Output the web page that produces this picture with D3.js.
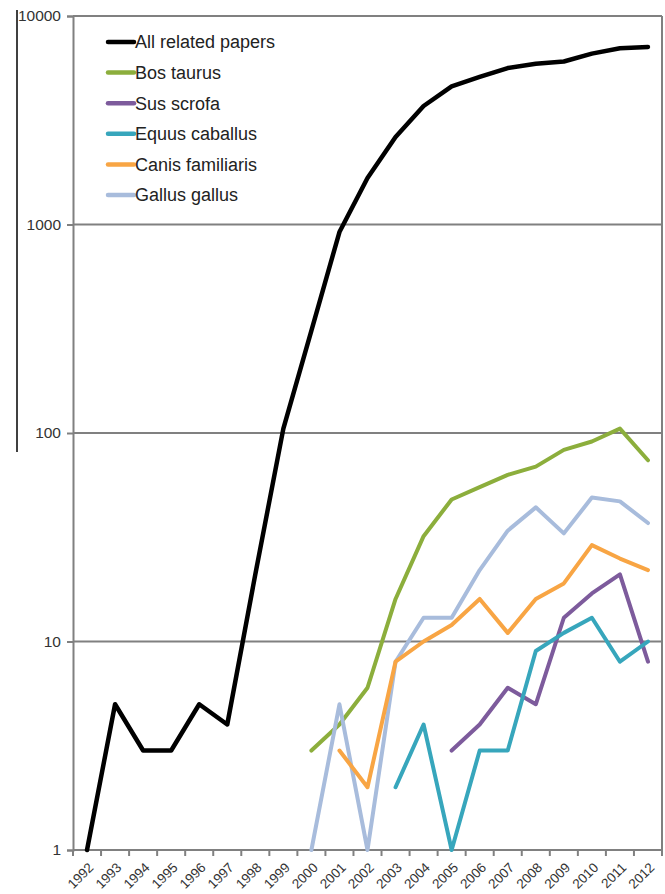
<!DOCTYPE html>
<html>
<head>
<meta charset="utf-8">
<script src="https://cdn.jsdelivr.net/npm/d3@7"></script>
<style>
  html, body { margin: 0; padding: 0; background: #fff; }
  svg { display: block; font-family: "Liberation Sans", Arial, sans-serif; }
</style>
</head>
<body>
<svg id="chart" width="665" height="894"></svg>
<script>
// Publication counts per year (log scale)
const years = d3.range(1992, 2013).map(String);

const allPapers   = [1, 5, 3, 3, 5, 4, 21, 105, 310, 920, 1670, 2630, 3700, 4600, 5100, 5630, 5900, 6050, 6600, 7000, 7100];
const bosTaurus   = [null, null, null, null, null, null, null, null, 3, 4, 6, 16, 32, 48, 55, 63, 69, 83, 91, 105, 74];
const susScrofa   = [null, null, null, null, null, null, null, null, null, null, null, null, null, 3, 4, 6, 5, 13, 17, 21, 8];
const equusCab    = [null, null, null, null, null, null, null, null, null, null, null, 2, 4, 1, 3, 3, 9, 11, 13, 8, 10];
const canisFam    = [null, null, null, null, null, null, null, null, null, 3, 2, 8, 10, 12, 16, 11, 16, 19, 29, 25, 22];
const gallusGal   = [null, null, null, null, null, null, null, null, 1, 5, 1, 8, 13, 13, 22, 34, 44, 33, 49, 47, 37];

const yTicks = [1, 10, 100, 1000, 10000];

const seriesNames  = ["All related papers", "Bos taurus", "Sus scrofa", "Equus caballus", "Canis familiaris", "Gallus gallus"];
const seriesValues = [allPapers, bosTaurus, susScrofa, equusCab, canisFam, gallusGal];
const seriesColors = ["#000000", "#8cae3c", "#7d5b9c", "#37a6bc", "#f8a544", "#a8bcdc"];

const svg = d3.select("#chart");
const plotL = 73, plotR = 662, plotT = 16, plotB = 850;

const x = d3.scaleBand().domain(years).range([plotL, plotR]);
const y = d3.scaleLog().domain([1, 10000]).range([plotB, plotT]);
const cx = d => x(d) + x.bandwidth() / 2;

const gridColor = "#808080";
const fontStack = "'Liberation Sans', Arial, sans-serif";

// horizontal gridlines
svg.append("g").selectAll("line")
  .data(yTicks.slice(1))
  .join("line")
  .attr("x1", plotL).attr("x2", plotR)
  .attr("y1", d => y(d)).attr("y2", d => y(d))
  .attr("stroke", gridColor).attr("stroke-width", 2);

// right frame edge
svg.append("line")
  .attr("x1", plotR).attr("x2", plotR)
  .attr("y1", plotT).attr("y2", plotB)
  .attr("stroke", gridColor).attr("stroke-width", 2);

// y axis
const yAxis = svg.append("g")
  .attr("transform", `translate(${plotL},0)`)
  .call(d3.axisLeft(y).tickValues(yTicks).tickFormat(d3.format("d")).tickSize(6).tickPadding(6));
yAxis.attr("font-family", null);
yAxis.select(".domain").attr("stroke", gridColor).attr("stroke-width", 2);
yAxis.selectAll(".tick line").attr("stroke", gridColor).attr("stroke-width", 2);
yAxis.selectAll(".tick text").attr("fill", "#333").style("font-size", "15.5px")
  .style("font-family", fontStack);

// x axis baseline with ticks on category boundaries
svg.append("line")
  .attr("x1", plotL).attr("x2", plotR)
  .attr("y1", plotB).attr("y2", plotB)
  .attr("stroke", gridColor).attr("stroke-width", 2);
const bounds = years.map(d => x(d)).concat([plotR]);
svg.append("g").selectAll("line")
  .data(bounds)
  .join("line")
  .attr("x1", d => d).attr("x2", d => d)
  .attr("y1", plotB).attr("y2", plotB + 6)
  .attr("stroke", gridColor).attr("stroke-width", 2);

// rotated year labels
svg.append("g").selectAll("text")
  .data(years)
  .join("text")
  .attr("transform", d => `translate(${cx(d) + 4},${plotB + 15}) rotate(-45)`)
  .attr("text-anchor", "end")
  .attr("dy", "0.35em")
  .attr("fill", "#333")
  .style("font-size", "13.5px")
  .text(d => d);

// series lines
const line = d3.line()
  .defined(d => d.v != null)
  .x(d => cx(d.year))
  .y(d => y(d.v));

const order = [0, 1, 5, 4, 2, 3];
order.forEach(i => {
  const pts = years.map((yr, j) => ({ year: yr, v: seriesValues[i][j] }));
  svg.append("path")
    .datum(pts)
    .attr("d", line)
    .attr("fill", "none")
    .attr("stroke", seriesColors[i])
    .attr("stroke-width", i === 0 ? 4.5 : 4)
    .attr("stroke-linejoin", "round")
    .attr("stroke-linecap", "round");
});

// legend
const legend = svg.append("g");
seriesNames.forEach((name, i) => {
  const ly = 42 + i * 30.6;
  legend.append("line")
    .attr("x1", 108).attr("x2", 134)
    .attr("y1", ly).attr("y2", ly)
    .attr("stroke", seriesColors[i]).attr("stroke-width", 4.5)
    .attr("stroke-linecap", "round");
  legend.append("text")
    .attr("x", 135).attr("y", ly)
    .attr("dy", "0.36em")
    .attr("fill", "#222")
    .style("font-size", "18px")
    .text(name);
});

// thin vertical rule at far left
svg.append("line")
  .attr("x1", 17).attr("x2", 17)
  .attr("y1", 10).attr("y2", 452)
  .attr("stroke", "#000").attr("stroke-width", 1.5);
</script>
</body>
</html>
